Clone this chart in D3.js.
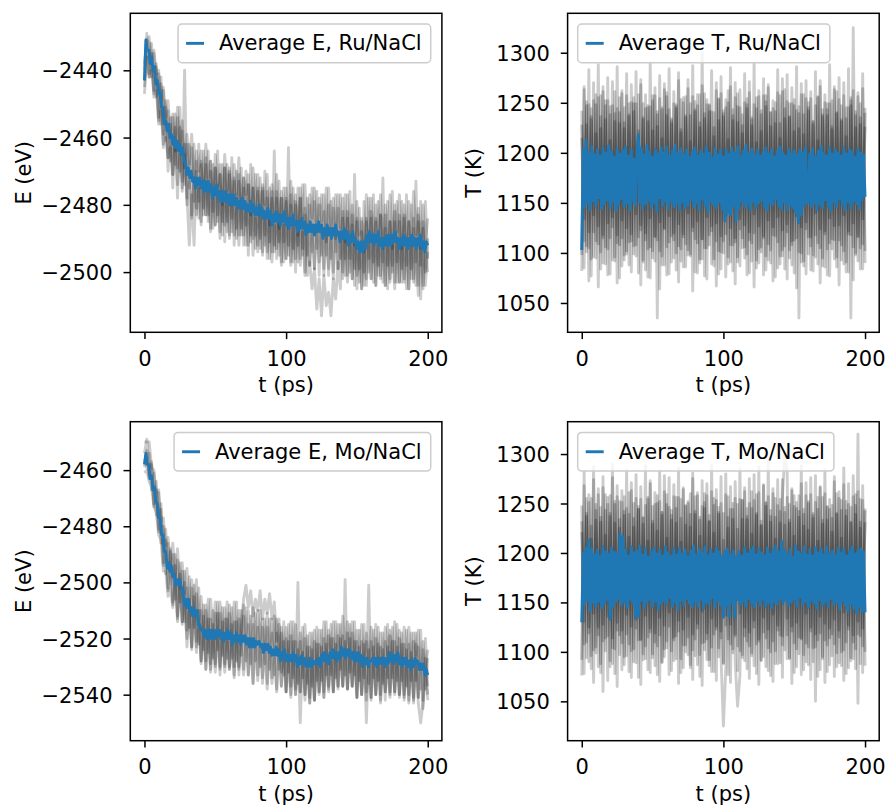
<!DOCTYPE html>
<html>
<head>
<meta charset="utf-8">
<script src="https://cdn.jsdelivr.net/npm/d3@7"></script>
<style>
  body { margin: 0; background: #fff; }
  svg text { font-family: "DejaVu Sans", sans-serif; fill: #000; }
</style>
</head>
<body>
<div id="chart"></div>
<script>
/* sampling of the stored series (ps) */
var avgStep = 1;
var runStep = 5 / 3;
var xTicks = [0, 100, 200];

var ruETicks = [-2500, -2480, -2460, -2440];
var moETicks = [-2540, -2520, -2500, -2480, -2460];
var tempTicks = [1050, 1100, 1150, 1200, 1250, 1300];

/* Ru/NaCl energy */
var ruEAvg = [-2443,-2431,-2434,-2434,-2438,-2436,-2440,-2439,-2444,-2443,-2447,-2446,-2451,-2451,-2456,-2455,-2458,-2456,-2460,-2459,
  -2462,-2460,-2463,-2461,-2464,-2462,-2465,-2463,-2467,-2467,-2471,-2469,-2472,-2470,-2473,-2472,-2475,-2472,-2474,-2472,
  -2475,-2473,-2476,-2473,-2476,-2473,-2476,-2474,-2478,-2475,-2477,-2474,-2478,-2476,-2479,-2476,-2479,-2476,-2479,-2477,
  -2480,-2477,-2480,-2477,-2480,-2478,-2481,-2479,-2481,-2478,-2481,-2479,-2482,-2480,-2482,-2479,-2482,-2480,-2483,-2481,
  -2483,-2480,-2483,-2481,-2484,-2482,-2484,-2481,-2484,-2482,-2486,-2483,-2485,-2482,-2485,-2483,-2486,-2483,-2485,-2482,
  -2486,-2484,-2487,-2484,-2486,-2483,-2486,-2485,-2488,-2485,-2487,-2484,-2487,-2485,-2489,-2486,-2488,-2485,-2488,-2486,
  -2489,-2486,-2488,-2485,-2488,-2486,-2490,-2487,-2489,-2486,-2489,-2487,-2490,-2487,-2489,-2486,-2489,-2488,-2491,-2488,
  -2490,-2487,-2490,-2488,-2492,-2489,-2491,-2488,-2491,-2490,-2493,-2491,-2494,-2491,-2494,-2491,-2493,-2489,-2491,-2488,
  -2491,-2489,-2492,-2489,-2491,-2488,-2492,-2490,-2493,-2490,-2492,-2489,-2492,-2489,-2492,-2489,-2491,-2488,-2491,-2490,
  -2493,-2490,-2492,-2489,-2492,-2490,-2493,-2490,-2492,-2489,-2492,-2490,-2493,-2490,-2492,-2489,-2493,-2491,-2494,-2491,
  -2492];
var ruERun1 = [-2438,-2431,-2430,-2437,-2434,-2441,-2440,-2449,-2445,-2454,-2449,-2459,
  -2453,-2464,-2451,-2462,-2455,-2469,-2459,-2468,-2459,-2473,-2464,-2470,
  -2464,-2475,-2462,-2472,-2467,-2478,-2465,-2475,-2468,-2480,-2465,-2476,
  -2469,-2480,-2468,-2477,-2466,-2481,-2472,-2477,-2471,-2483,-2469,-2481,
  -2471,-2483,-2474,-2480,-2471,-2486,-2474,-2483,-2471,-2487,-2476,-2483,
  -2475,-2487,-2473,-2484,-2477,-2489,-2475,-2484,-2474,-2488,-2477,-2484,
  -2475,-2488,-2478,-2485,-2477,-2491,-2475,-2487,-2478,-2490,-2477,-2487,
  -2478,-2491,-2477,-2489,-2480,-2492,-2479,-2489,-2484,-2494,-2477,-2489,
  -2478,-2491,-2480,-2488,-2477,-2493,-2480,-2490,-2477,-2493,-2480,-2488,
  -2477,-2493,-2480,-2490,-2479,-2492,-2476,-2489,-2481,-2493,-2480,-2491,
  -2484];
var ruERun2 = [-2447,-2436,-2442,-2440,-2447,-2446,-2455,-2452,-2462,-2460,-2466,-2463,
  -2471,-2462,-2474,-2465,-2473,-2465,-2480,-2473,-2484,-2472,-2483,-2475,
  -2485,-2475,-2483,-2474,-2487,-2478,-2486,-2476,-2490,-2478,-2486,-2477,
  -2490,-2478,-2489,-2481,-2492,-2479,-2489,-2481,-2492,-2481,-2495,-2484,
  -2492,-2481,-2495,-2484,-2494,-2484,-2497,-2486,-2493,-2483,-2497,-2486,
  -2496,-2485,-2498,-2486,-2496,-2485,-2498,-2488,-2501,-2487,-2498,-2488,
  -2499,-2488,-2497,-2486,-2501,-2488,-2499,-2490,-2502,-2488,-2499,-2488,
  -2500,-2489,-2503,-2491,-2502,-2490,-2501,-2494,-2505,-2492,-2504,-2491,
  -2502,-2489,-2504,-2490,-2501,-2492,-2504,-2490,-2503,-2492,-2505,-2490,
  -2503,-2491,-2502,-2493,-2505,-2490,-2503,-2492,-2507,-2491,-2505,-2494,
  -2500];
var ruERun3 = [-2440,-2429,-2441,-2432,-2446,-2438,-2454,-2442,-2459,-2449,-2466,-2454,
  -2471,-2453,-2469,-2451,-2475,-2440,-2478,-2462,-2483,-2462,-2481,-2462,
  -2486,-2464,-2483,-2464,-2488,-2468,-2486,-2464,-2488,-2468,-2491,-2468,
  -2489,-2466,-2492,-2470,-2489,-2469,-2492,-2470,-2495,-2468,-2490,-2471,
  -2494,-2472,-2494,-2470,-2496,-2475,-2494,-2464,-2496,-2473,-2498,-2475,
  -2496,-2463,-2497,-2475,-2500,-2475,-2496,-2474,-2500,-2478,-2498,-2475,
  -2499,-2476,-2501,-2477,-2499,-2475,-2501,-2479,-2500,-2477,-2499,-2477,
  -2502,-2477,-2501,-2476,-2502,-2471,-2505,-2481,-2505,-2479,-2502,-2478,
  -2502,-2477,-2504,-2479,-2502,-2472,-2504,-2479,-2502,-2476,-2503,-2479,
  -2503,-2479,-2503,-2477,-2505,-2480,-2502,-2473,-2504,-2479,-2504,-2479,
  -2496];
var ruERun4 = [-2445,-2431,-2432,-2442,-2435,-2448,-2441,-2456,-2446,-2461,-2452,-2467,
  -2454,-2468,-2454,-2470,-2458,-2474,-2462,-2475,-2463,-2479,-2467,-2479,
  -2467,-2481,-2468,-2483,-2467,-2482,-2469,-2483,-2471,-2485,-2469,-2485,
  -2470,-2484,-2472,-2487,-2473,-2487,-2472,-2486,-2474,-2489,-2475,-2489,
  -2475,-2490,-2475,-2489,-2476,-2491,-2478,-2492,-2476,-2491,-2478,-2491,
  -2479,-2492,-2477,-2493,-2479,-2492,-2478,-2493,-2481,-2495,-2480,-2494,
  -2479,-2493,-2480,-2495,-2482,-2495,-2480,-2496,-2481,-2494,-2481,-2496,
  -2482,-2496,-2482,-2496,-2483,-2499,-2485,-2499,-2485,-2500,-2484,-2496,
  -2482,-2497,-2484,-2498,-2483,-2497,-2483,-2498,-2485,-2498,-2482,-2497,
  -2483,-2499,-2483,-2498,-2485,-2499,-2484,-2497,-2483,-2498,-2485,-2500,
  -2490];
var ruERun5 = [-2443,-2436,-2442,-2435,-2448,-2439,-2456,-2444,-2463,-2451,-2470,-2456,
  -2475,-2457,-2478,-2457,-2476,-2462,-2477,-2492,-2477,-2492,-2470,-2484,
  -2468,-2483,-2466,-2485,-2470,-2487,-2469,-2485,-2471,-2489,-2469,-2488,
  -2471,-2488,-2473,-2490,-2471,-2489,-2475,-2492,-2474,-2491,-2475,-2493,
  -2476,-2493,-2476,-2492,-2478,-2496,-2476,-2494,-2478,-2495,-2478,-2497,
  -2478,-2495,-2480,-2497,-2480,-2497,-2478,-2495,-2483,-2501,-2497,-2505,
  -2499,-2511,-2502,-2513,-2501,-2510,-2506,-2513,-2502,-2508,-2497,-2505,
  -2484,-2501,-2484,-2500,-2486,-2504,-2484,-2503,-2488,-2504,-2485,-2500,
  -2484,-2503,-2485,-2501,-2483,-2503,-2487,-2505,-2485,-2500,-2485,-2503,
  -2485,-2503,-2484,-2505,-2485,-2502,-2487,-2504,-2485,-2508,-2487,-2504,
  -2494];

/* Ru/NaCl temperature */
var ruTAvg = [1103,1204,1146,1213,1150,1199,1143,1206,1152,1198,1147,1203,1155,1197,1144,1205,1149,1200,1153,1207,
  1145,1201,1151,1196,1142,1204,1148,1199,1154,1202,1146,1206,1150,1197,1143,1203,1152,1194,1147,1200,
  1218,1151,1205,1144,1198,1149,1207,1153,1201,1145,1196,1150,1203,1141,1199,1155,1205,1147,1200,1152,
  1206,1144,1197,1152,1202,1146,1208,1149,1199,1143,1204,1151,1198,1145,1203,1148,1196,1153,1201,1146,
  1205,1150,1197,1143,1202,1154,1199,1147,1206,1141,1200,1152,1195,1148,1204,1145,1198,1151,1203,1144,
  1196,1132,1203,1140,1199,1138,1205,1147,1200,1132,1206,1144,1197,1152,1202,1146,1208,1149,1199,1143,
  1204,1151,1198,1145,1203,1150,1197,1153,1201,1146,1205,1142,1199,1150,1203,1148,1196,1154,1202,1147,
  1206,1144,1200,1151,1197,1143,1204,1148,1199,1145,1202,1140,1198,1130,1203,1138,1200,1147,1205,1150,
  1152,1199,1146,1204,1150,1196,1143,1202,1149,1206,1145,1200,1153,1197,1147,1205,1142,1199,1151,1203,
  1146,1200,1154,1197,1148,1205,1143,1199,1151,1203,1145,1201,1152,1196,1149,1204,1144,1200,1153,1198,
  1156];
var ruTRun1 = [1242,1112,1251,1105,1236,1121,1248,1109,1257,1118,1233,1104,
  1246,1126,1239,1110,1255,1115,1230,1102,1249,1119,1241,1108,
  1258,1123,1235,1113,1247,1106,1252,1117,1238,1102,1245,1125,
  1256,1111,1232,1120,1244,1107,1253,1116,1237,1103,1249,1122,
  1241,1110,1258,1114,1234,1105,1247,1127,1240,1112,1254,1101,
  1236,1119,1250,1108,1243,1115,1259,1124,1238,1106,1248,1113,
  1233,1120,1255,1104,1242,1117,1251,1109,1240,1126,1229,1111,
  1257,1103,1244,1121,1235,1108,1253,1115,1246,1100,1238,1124,
  1250,1107,1231,1118,1256,1105,1243,1122,1237,1110,1252,1113,
  1239,1128,1247,1102,1234,1119,1255,1106,1241,1116,1249,1109,
  1245];
var ruTRun2 = [1098,1263,1107,1248,1094,1270,1112,1255,1101,1266,1089,1252,
  1115,1271,1096,1244,1108,1262,1093,1257,1111,1268,1099,1249,
  1116,1273,1091,1258,1104,1246,1095,1265,1113,1254,1088,1269,
  1106,1243,1117,1261,1100,1272,1092,1250,1109,1264,1097,1256,
  1114,1247,1090,1267,1105,1253,1118,1241,1094,1270,1102,1259,
  1112,1245,1096,1266,1108,1255,1091,1263,1115,1250,1099,1271,
  1110,1248,1093,1262,1106,1257,1097,1268,1103,1244,1117,1260,
  1089,1274,1107,1251,1095,1265,1113,1242,1101,1269,1092,1254,
  1116,1261,1098,1247,1110,1272,1087,1258,1104,1249,1114,1266,
  1096,1253,1108,1270,1091,1245,1118,1262,1100,1256,1105,1264,
  1102];
var ruTRun3 = [1215,1134,1228,1121,1244,1138,1219,1127,1236,1115,1247,1130,
  1212,1136,1231,1118,1240,1133,1224,1125,1238,1112,1249,1139,
  1217,1128,1233,1120,1245,1135,1222,1116,1241,1131,1214,1124,
  1237,1137,1229,1113,1246,1129,1220,1119,1235,1140,1211,1126,
  1243,1132,1225,1114,1239,1136,1248,1122,1216,1130,1232,1117,
  1242,1138,1213,1125,1237,1111,1230,1134,1219,1128,1244,1121,
  1227,1139,1210,1127,1238,1115,1246,1133,1226,1118,1241,1136,
  1214,1123,1234,1129,1249,1112,1221,1137,1239,1126,1218,1131,
  1245,1116,1228,1140,1212,1124,1236,1119,1243,1135,1223,1127,
  1240,1113,1231,1138,1216,1122,1247,1130,1225,1117,1235,1134,
  1226];
var ruTRun4 = [1082,1266,1101,1283,1077,1252,1095,1288,1084,1261,1106,1275,
  1079,1247,1092,1286,1075,1259,1098,1279,1088,1250,1107,1281,
  1080,1268,1093,1244,1076,1290,1102,1257,1035,1277,1097,1263,
  1078,1284,1091,1249,1083,1280,1104,1255,1086,1273,1099,1287,
  1081,1258,1094,1300,1077,1248,1108,1282,1087,1262,1079,1276,
  1100,1253,1089,1285,1082,1270,1096,1245,1105,1279,1078,1260,
  1092,1289,1085,1256,1101,1274,1083,1265,1090,1252,1076,1283,
  1097,1261,1084,1278,1103,1249,1080,1286,1035,1258,1087,1272,
  1099,1254,1082,1281,1089,1266,1095,1250,1078,1288,1104,1263,
  1086,1275,1093,1257,1081,1284,1035,1325,1098,1260,1084,1279,
  1090];
var ruTRun5 = [1228,1085,1247,1072,1233,1096,1258,1066,1224,1090,1252,1078,
  1238,1093,1261,1070,1229,1087,1245,1099,1236,1081,1255,1097,
  1222,1068,1249,1083,1231,1075,1257,1092,1226,1064,1243,1088,
  1260,1079,1234,1095,1248,1071,1223,1086,1256,1098,1237,1062,
  1251,1080,1230,1094,1259,1074,1241,1089,1225,1067,1253,1084,
  1239,1076,1262,1091,1232,1069,1246,1087,1227,1095,1254,1080,
  1235,1066,1244,1090,1221,1078,1257,1093,1240,1072,1250,1085,
  1229,1097,1263,1074,1236,1088,1247,1065,1224,1091,1258,1079,
  1242,1083,1231,1096,1255,1070,1238,1086,1249,1077,1226,1094,
  1261,1068,1233,1089,1245,1081,1252,1073,1237,1092,1228,1084,
  1240];

/* Mo/NaCl energy */
var moEAvg = [-2458,-2454,-2458,-2458,-2463,-2462,-2467,-2466,-2471,-2472,-2477,-2477,-2483,-2483,-2489,-2489,-2495,-2493,-2496,-2494,
  -2498,-2497,-2501,-2499,-2501,-2499,-2502,-2502,-2508,-2506,-2509,-2506,-2510,-2509,-2512,-2509,-2512,-2510,-2515,-2515,
  -2517,-2517,-2519,-2517,-2520,-2517,-2520,-2517,-2520,-2517,-2520,-2517,-2519,-2517,-2520,-2518,-2521,-2518,-2520,-2517,
  -2520,-2518,-2522,-2519,-2521,-2518,-2521,-2519,-2522,-2519,-2521,-2519,-2522,-2520,-2523,-2520,-2523,-2520,-2523,-2521,
  -2522,-2521,-2523,-2522,-2525,-2522,-2524,-2522,-2525,-2523,-2526,-2524,-2526,-2523,-2526,-2524,-2528,-2525,-2527,-2524,
  -2528,-2526,-2528,-2526,-2528,-2525,-2528,-2526,-2530,-2527,-2529,-2526,-2529,-2527,-2530,-2528,-2530,-2527,-2530,-2528,
  -2529,-2528,-2529,-2527,-2530,-2526,-2528,-2525,-2528,-2526,-2529,-2525,-2527,-2524,-2527,-2525,-2528,-2525,-2527,-2523,
  -2526,-2524,-2527,-2524,-2526,-2524,-2527,-2525,-2528,-2525,-2528,-2525,-2528,-2526,-2530,-2527,-2529,-2527,-2530,-2528,
  -2528,-2527,-2529,-2527,-2530,-2527,-2529,-2527,-2529,-2527,-2530,-2527,-2529,-2525,-2528,-2526,-2529,-2526,-2528,-2525,
  -2529,-2527,-2530,-2527,-2529,-2527,-2530,-2528,-2531,-2528,-2530,-2527,-2529,-2528,-2531,-2529,-2531,-2529,-2533,-2531,
  -2533];
var moERun1 = [-2450,-2450,-2450,-2459,-2460,-2468,-2467,-2478,-2477,-2487,-2484,-2494,
  -2486,-2498,-2488,-2502,-2493,-2504,-2495,-2509,-2499,-2509,-2499,-2515,
  -2505,-2517,-2508,-2519,-2506,-2517,-2507,-2518,-2507,-2518,-2509,-2520,
  -2508,-2520,-2507,-2519,-2510,-2521,-2508,-2519,-2510,-2521,-2509,-2521,
  -2510,-2521,-2513,-2524,-2511,-2524,-2513,-2523,-2513,-2526,-2516,-2525,
  -2516,-2526,-2514,-2526,-2515,-2529,-2518,-2526,-2515,-2529,-2518,-2528,
  -2517,-2529,-2517,-2526,-2514,-2527,-2517,-2524,-2514,-2527,-2515,-2524,
  -2512,-2525,-2514,-2524,-2514,-2527,-2517,-2526,-2515,-2528,-2518,-2530,
  -2516,-2527,-2515,-2529,-2518,-2528,-2516,-2526,-2517,-2528,-2514,-2526,
  -2517,-2529,-2516,-2528,-2516,-2529,-2518,-2526,-2517,-2531,-2521,-2531,
  -2524];
var moERun2 = [-2461,-2460,-2464,-2466,-2473,-2475,-2483,-2485,-2496,-2496,-2505,-2502,
  -2509,-2500,-2513,-2501,-2514,-2508,-2520,-2510,-2524,-2510,-2523,-2516,
  -2528,-2518,-2531,-2519,-2531,-2518,-2532,-2519,-2530,-2519,-2532,-2521,
  -2531,-2521,-2534,-2520,-2531,-2522,-2533,-2520,-2533,-2522,-2536,-2522,
  -2535,-2522,-2534,-2524,-2538,-2523,-2536,-2527,-2538,-2525,-2537,-2527,
  -2539,-2527,-2541,-2527,-2540,-2529,-2539,-2527,-2540,-2531,-2543,-2529,
  -2542,-2528,-2540,-2528,-2541,-2526,-2538,-2528,-2539,-2526,-2538,-2526,
  -2537,-2526,-2538,-2526,-2537,-2528,-2541,-2526,-2540,-2529,-2542,-2529,
  -2542,-2528,-2540,-2529,-2542,-2527,-2539,-2530,-2541,-2527,-2539,-2528,
  -2541,-2529,-2540,-2529,-2543,-2528,-2542,-2530,-2541,-2531,-2545,-2532,
  -2540];
var moERun3 = [-2454,-2449,-2462,-2457,-2472,-2464,-2481,-2472,-2493,-2481,-2502,-2488,
  -2507,-2490,-2512,-2493,-2514,-2496,-2517,-2498,-2523,-2501,-2521,-2502,
  -2528,-2508,-2531,-2506,-2529,-2510,-2530,-2507,-2533,-2509,-2530,-2507,
  -2531,-2509,-2530,-2507,-2533,-2510,-2531,-2509,-2533,-2512,-2536,-2511,
  -2533,-2510,-2536,-2513,-2536,-2513,-2534,-2512,-2539,-2515,-2537,-2514,
  -2539,-2515,-2537,-2514,-2540,-2500,-2539,-2516,-2540,-2519,-2543,-2518,
  -2542,-2516,-2539,-2517,-2539,-2514,-2537,-2515,-2539,-2514,-2537,-2515,
  -2537,-2499,-2538,-2515,-2537,-2514,-2541,-2517,-2540,-2515,-2539,-2501,
  -2541,-2517,-2540,-2516,-2540,-2518,-2542,-2515,-2539,-2516,-2540,-2515,
  -2540,-2518,-2541,-2517,-2540,-2518,-2543,-2518,-2541,-2517,-2542,-2520,
  -2537];
var moERun4 = [-2456,-2459,-2454,-2467,-2461,-2476,-2468,-2486,-2480,-2497,-2486,-2501,
  -2490,-2506,-2492,-2507,-2496,-2514,-2502,-2516,-2502,-2516,-2504,-2522,
  -2510,-2524,-2510,-2525,-2513,-2527,-2511,-2524,-2511,-2526,-2513,-2527,
  -2511,-2527,-2514,-2528,-2513,-2526,-2512,-2528,-2515,-2529,-2515,-2528,
  -2516,-2530,-2516,-2529,-2516,-2531,-2518,-2533,-2518,-2531,-2518,-2533,
  -2520,-2532,-2519,-2534,-2521,-2536,-2521,-2534,-2520,-2536,-2523,-2537,
  -2521,-2535,-2522,-2535,-2520,-2533,-2519,-2533,-2520,-2534,-2519,-2531,
  -2519,-2533,-2518,-2532,-2518,-2533,-2521,-2535,-2521,-2534,-2521,-2536,
  -2521,-2534,-2520,-2535,-2523,-2536,-2521,-2534,-2519,-2534,-2521,-2535,
  -2520,-2535,-2522,-2537,-2522,-2535,-2521,-2535,-2523,-2538,-2524,-2538,
  -2527];
var moERun5 = [-2459,-2453,-2463,-2458,-2473,-2467,-2482,-2474,-2494,-2485,-2503,-2489,
  -2508,-2494,-2514,-2497,-2515,-2500,-2523,-2506,-2523,-2505,-2525,-2510,
  -2529,-2512,-2528,-2513,-2532,-2515,-2529,-2511,-2531,-2514,-2529,-2513,
  -2530,-2515,-2533,-2514,-2530,-2516,-2506,-2501,-2509,-2503,-2512,-2506,
  -2510,-2503,-2513,-2506,-2511,-2504,-2513,-2507,-2521,-2513,-2532,-2521,
  -2539,-2521,-2540,-2521,-2538,-2524,-2550,-2525,-2542,-2523,-2541,-2524,
  -2542,-2522,-2539,-2523,-2541,-2522,-2539,-2520,-2539,-2522,-2537,-2520,
  -2537,-2521,-2538,-2520,-2537,-2521,-2541,-2523,-2540,-2522,-2550,-2524,
  -2541,-2523,-2540,-2522,-2543,-2524,-2539,-2523,-2540,-2521,-2539,-2523,
  -2540,-2522,-2542,-2524,-2542,-2525,-2541,-2522,-2543,-2550,-2543,-2527,
  -2542];

/* Mo/NaCl temperature */
var moTAvg = [1130,1200,1148,1205,1152,1213,1141,1204,1150,1198,1146,1203,1151,1197,1144,1206,1149,1201,1153,1199,
  1133,1205,1146,1201,1151,1199,1154,1220,1147,1216,1150,1203,1145,1197,1153,1206,1149,1200,1135,1202,
  1136,1207,1152,1198,1144,1204,1150,1196,1153,1201,1146,1205,1151,1199,1143,1203,1149,1197,1152,1206,
  1148,1200,1155,1197,1146,1204,1150,1198,1143,1205,1152,1199,1147,1203,1154,1196,1149,1202,1145,1207,
  1151,1198,1146,1204,1153,1200,1144,1206,1150,1197,1148,1203,1155,1199,1145,1205,1152,1201,1147,1196,
  1135,1202,1147,1204,1136,1198,1150,1202,1135,1196,1153,1201,1148,1197,1151,1205,1146,1199,1154,1203,
  1149,1206,1145,1198,1152,1204,1147,1200,1153,1197,1146,1205,1150,1199,1144,1203,1151,1207,1148,1201,
  1154,1212,1149,1203,1152,1198,1147,1204,1150,1196,1153,1207,1146,1201,1155,1199,1148,1206,1151,1198,
  1145,1203,1152,1197,1149,1205,1144,1200,1153,1204,1147,1198,1151,1206,1146,1199,1154,1202,1148,1197,
  1150,1205,1143,1200,1152,1204,1147,1197,1141,1202,1149,1206,1144,1199,1139,1203,1146,1204,1140,1201,
  1140];
var moTRun1 = [1248,1108,1237,1119,1255,1102,1243,1125,1231,1111,1259,1116,
  1240,1104,1252,1122,1234,1109,1257,1118,1239,1101,1250,1124,
  1244,1113,1236,1106,1254,1120,1232,1110,1258,1117,1241,1103,
  1249,1126,1238,1112,1256,1121,1235,1107,1247,1115,1260,1102,
  1242,1124,1233,1109,1251,1119,1238,1105,1255,1123,1246,1114,
  1240,1127,1257,1108,1234,1118,1249,1101,1253,1116,1237,1106,
  1245,1125,1259,1113,1232,1120,1250,1104,1243,1111,1236,1122,
  1254,1107,1241,1117,1230,1126,1247,1103,1258,1114,1239,1109,
  1252,1121,1235,1105,1244,1119,1256,1112,1233,1124,1248,1108,
  1240,1115,1253,1102,1237,1123,1246,1110,1259,1118,1231,1106,
  1243];
var moTRun2 = [1092,1268,1110,1251,1096,1274,1105,1259,1088,1266,1114,1249,
  1091,1276,1103,1257,1117,1263,1095,1245,1108,1271,1090,1255,
  1112,1267,1098,1248,1115,1273,1094,1261,1106,1252,1089,1278,
  1111,1246,1101,1269,1116,1256,1093,1264,1107,1250,1087,1275,
  1113,1258,1097,1247,1110,1270,1092,1262,1118,1253,1104,1277,
  1089,1259,1113,1244,1099,1272,1106,1254,1094,1266,1111,1250,
  1096,1279,1108,1261,1091,1268,1114,1257,1100,1265,1088,1248,
  1117,1274,1102,1256,1093,1263,1109,1245,1115,1270,1097,1258,
  1105,1276,1090,1251,1112,1267,1095,1260,1107,1244,1118,1272,
  1099,1255,1086,1269,1110,1249,1094,1278,1103,1262,1116,1253,
  1100];
var moTRun3 = [1221,1131,1240,1125,1214,1139,1233,1117,1246,1128,1218,1136,
  1237,1114,1249,1130,1225,1122,1242,1138,1216,1126,1235,1133,
  1244,1112,1229,1137,1212,1124,1247,1119,1222,1135,1238,1127,
  1215,1140,1243,1115,1230,1132,1211,1123,1248,1136,1226,1118,
  1239,1129,1217,1141,1245,1113,1232,1134,1220,1126,1241,1121,
  1213,1137,1236,1128,1250,1116,1224,1139,1234,1125,1245,1120,
  1219,1132,1238,1111,1227,1135,1247,1123,1231,1138,1214,1127,
  1242,1116,1228,1134,1249,1121,1217,1130,1236,1113,1244,1139,
  1223,1125,1240,1118,1212,1136,1233,1129,1246,1114,1221,1133,
  1239,1122,1215,1140,1243,1127,1230,1117,1248,1131,1225,1124,
  1231];
var moTRun4 = [1076,1282,1094,1259,1083,1287,1099,1265,1079,1277,1101,1256,
  1085,1290,1078,1268,1097,1251,1087,1284,1080,1263,1103,1279,
  1074,1254,1092,1288,1082,1270,1098,1249,1077,1283,1090,1262,
  1104,1276,1081,1257,1093,1286,1079,1266,1100,1252,1084,1281,
  1096,1261,1075,1273,1102,1258,1086,1289,1080,1264,1095,1250,
  1088,1280,1077,1267,1103,1255,1081,1285,1097,1262,1083,1275,
  1099,1253,1078,1287,1092,1269,1085,1292,1076,1260,1101,1274,
  1089,1256,1300,1283,1094,1265,1079,1251,1098,1288,1082,1271,
  1087,1259,1104,1278,1075,1266,1093,1284,1080,1254,1096,1277,
  1085,1262,1100,1286,1078,1270,1091,1257,1083,1320,1088,1268,
  1086];
var moTRun5 = [1232,1078,1255,1090,1227,1069,1249,1085,1236,1060,1243,1071,
  1258,1088,1230,1065,1252,1082,1238,1096,1261,1074,1226,1089,
  1247,1067,1235,1093,1256,1079,1229,1086,1250,1070,1241,1095,
  1259,1077,1233,1091,1245,1068,1254,1084,1228,1097,1239,1072,
  1257,1087,1236,1066,1260,1092,1231,1080,1248,1071,1239,1094,
  1025,1083,1225,1069,1244,1089,1045,1076,1253,1091,1234,1073,
  1262,1086,1240,1067,1228,1095,1251,1081,1237,1070,1255,1088,
  1230,1074,1246,1093,1233,1068,1258,1085,1242,1077,1227,1090,
  1250,1072,1238,1050,1256,1082,1229,1069,1247,1087,1235,1075,
  1260,1089,1243,1071,1252,1084,1231,1093,1239,1048,1254,1079,
  1245];

/* layout */
var width = 887, height = 807;
var plotW = 311.6, plotH = 319;
var fontSize = 21;
var blue = "#1f77b4";
var runOpacity = 0.2;

var panels = [
  {left: 130.3, top: 13.3, yDomain: [-2517.9, -2423.05], yTicks: ruETicks,
   yLabel: "E (eV)", labelX: 30.7, legend: "Average E, Ru/NaCl", legendRight: true,
   avg: ruEAvg, runs: [ruERun1, ruERun2, ruERun3, ruERun4, ruERun5]},
  {left: 567.6, top: 13.3, yDomain: [1020.7, 1339.4], yTicks: tempTicks,
   yLabel: "T (K)", labelX: 481, legend: "Average T, Ru/NaCl", legendRight: false,
   avg: ruTAvg, runs: [ruTRun1, ruTRun2, ruTRun3, ruTRun4, ruTRun5]},
  {left: 130.3, top: 421.7, yDomain: [-2556.4, -2442.75], yTicks: moETicks,
   yLabel: "E (eV)", labelX: 30.7, legend: "Average E, Mo/NaCl", legendRight: true,
   avg: moEAvg, runs: [moERun1, moERun2, moERun3, moERun4, moERun5]},
  {left: 567.6, top: 421.7, yDomain: [1010.2, 1332.7], yTicks: tempTicks,
   yLabel: "T (K)", labelX: 481, legend: "Average T, Mo/NaCl", legendRight: false,
   avg: moTAvg, runs: [moTRun1, moTRun2, moTRun3, moTRun4, moTRun5]}
];

var svg = d3.select("#chart").append("svg")
  .attr("width", width)
  .attr("height", height);

svg.append("rect").attr("width", width).attr("height", height).attr("fill", "#fff");

panels.forEach(drawPanel);

function styleAxis(a){
  a.select(".domain").remove();
  a.attr("font-size", fontSize).attr("font-family", "DejaVu Sans");
  a.selectAll("line").attr("stroke", "#000").attr("stroke-width", 1.5);
  a.selectAll("text").attr("fill", "#000");
}

function drawPanel(p, k){
  var g = svg.append("g");
  var bottom = p.top + plotH;
  var right = p.left + plotW;

  var xScale = d3.scaleLinear().domain([-10, 210]).range([p.left, right]);
  var yScale = d3.scaleLinear().domain(p.yDomain).range([bottom, p.top]);

  g.append("clipPath").attr("id", "clip" + k)
    .append("rect")
    .attr("x", p.left).attr("y", p.top)
    .attr("width", plotW).attr("height", plotH);

  var runLine = d3.line()
    .x((d, i) => xScale(i * runStep))
    .y(d => yScale(d));
  var avgLine = d3.line()
    .x((d, i) => xScale(i * avgStep))
    .y(d => yScale(d));

  var lines = g.append("g").attr("clip-path", "url(#clip" + k + ")");

  /* individual runs */
  lines.selectAll(".run")
    .data(p.runs).enter()
    .append("path")
    .attr("class", "run")
    .attr("d", runLine)
    .attr("fill", "none")
    .attr("stroke", "#000")
    .attr("stroke-opacity", runOpacity)
    .attr("stroke-width", 2.9)
    .attr("stroke-linejoin", "round");

  /* average */
  lines.append("path")
    .attr("d", avgLine(p.avg))
    .attr("fill", "none")
    .attr("stroke", blue)
    .attr("stroke-width", 2.9)
    .attr("stroke-linejoin", "round");

  /* axes */
  g.append("g")
    .attr("transform", `translate(0, ${bottom})`)
    .call(d3.axisBottom(xScale).tickValues(xTicks).tickSize(6.8).tickPadding(11.5).tickFormat(d3.format("d")))
    .call(styleAxis);

  g.append("g")
    .attr("transform", `translate(${p.left}, 0)`)
    .call(d3.axisLeft(yScale).tickValues(p.yTicks).tickSize(6.8).tickPadding(11).tickFormat(d3.format("d")))
    .call(styleAxis)
    .selectAll("text").attr("dy", "0.36em");

  g.append("rect")
    .attr("x", p.left).attr("y", p.top)
    .attr("width", plotW).attr("height", plotH)
    .attr("fill", "none")
    .attr("stroke", "#000")
    .attr("stroke-width", 1.5);

  g.append("text")
    .attr("x", (p.left + right) / 2)
    .attr("y", bottom + 60)
    .attr("text-anchor", "middle")
    .attr("font-size", fontSize)
    .text("t (ps)");

  g.append("text")
    .attr("transform", `translate(${p.labelX}, ${p.top + plotH / 2}) rotate(-90)`)
    .attr("text-anchor", "middle")
    .attr("font-size", fontSize)
    .text(p.yLabel);

  /* legend */
  var leg = g.append("g");
  var box = leg.append("rect");
  var label = leg.append("text")
    .attr("font-size", fontSize)
    .text(p.legend);
  var textLen = label.node().getComputedTextLength();
  var boxW = 41 + textLen + 9;
  var boxH = 38.7;
  var boxX = p.legendRight ? right - 11.2 - boxW : p.left + 10.1;
  var boxY = p.top + 10.7;

  box.attr("x", boxX).attr("y", boxY)
    .attr("width", boxW).attr("height", boxH)
    .attr("rx", 4)
    .attr("fill", "#fff").attr("fill-opacity", 0.8)
    .attr("stroke", "#ccc").attr("stroke-width", 1.5);
  label.attr("x", boxX + 41).attr("y", boxY + boxH / 2 + 7);
  leg.append("line")
    .attr("x1", boxX + 8).attr("x2", boxX + 26)
    .attr("y1", boxY + boxH / 2).attr("y2", boxY + boxH / 2)
    .attr("stroke", blue)
    .attr("stroke-width", 2.9);
}
</script>
</body>
</html>
